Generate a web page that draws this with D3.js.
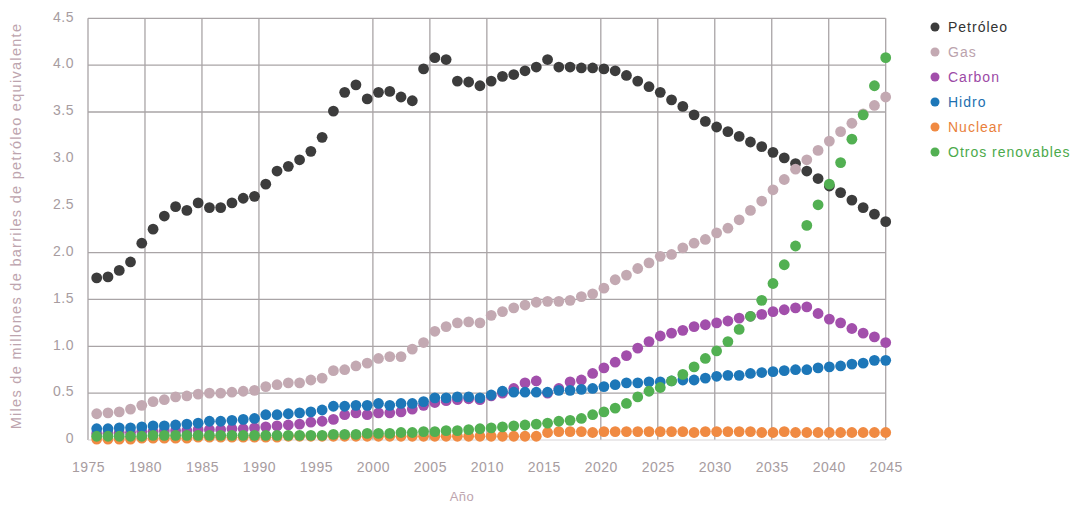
<!DOCTYPE html>
<html>
<head>
<meta charset="utf-8">
<script src="https://cdn.jsdelivr.net/npm/d3@7"></script>
<style>
  html, body { margin: 0; padding: 0; background: #ffffff; }
  svg { display: block; }
  text { font-family: "Liberation Sans Narrow", "Liberation Sans", Arial, sans-serif; }
</style>
</head>
<body>
<svg id="chart" width="1085" height="507"></svg>
<script>
// ---- Data ----
const years = d3.range(1975, 2046);
const seriesNames = ["Petróleo", "Gas", "Carbon", "Hidro", "Nuclear", "Otros renovables"];
const seriesColors = ["#3c3c3c", "#c3a9b2", "#a24fab", "#1d77b8", "#f08a42", "#52b052"];
const legendTextColors = ["#333333", "#bba3ad", "#9c4aa6", "#1d6fb0", "#e97f3c", "#4caa4c"];

const petroleo = [1.73,1.74,1.81,1.90,2.10,2.25,2.39,2.49,2.45,2.53,
                  2.48,2.48,2.53,2.58,2.60,2.73,2.87,2.92,2.99,3.08,
                  3.23,3.51,3.71,3.79,3.64,3.71,3.72,3.66,3.62,3.96,
                  4.08,4.06,3.83,3.82,3.78,3.83,3.88,3.90,3.94,3.98,
                  4.06,3.98,3.98,3.97,3.97,3.96,3.94,3.89,3.83,3.77,
                  3.71,3.63,3.56,3.47,3.40,3.34,3.29,3.24,3.18,3.13,
                  3.07,3.01,2.95,2.87,2.79,2.71,2.64,2.56,2.48,2.41,
                  2.33];
const gas = [0.28,0.29,0.30,0.33,0.37,0.41,0.43,0.46,0.47,0.49,
             0.50,0.50,0.51,0.52,0.53,0.57,0.59,0.61,0.61,0.64,
             0.66,0.74,0.75,0.79,0.82,0.87,0.89,0.89,0.97,1.04,
             1.16,1.21,1.25,1.26,1.25,1.33,1.37,1.41,1.44,1.47,
             1.48,1.48,1.49,1.53,1.56,1.62,1.71,1.76,1.83,1.89,
             1.96,1.98,2.05,2.10,2.14,2.21,2.26,2.35,2.45,2.55,
             2.67,2.78,2.89,2.99,3.09,3.19,3.29,3.38,3.48,3.57,
             3.66];
const carbon = [0.07,0.07,0.08,0.08,0.09,0.09,0.10,0.10,0.10,0.11,
                0.11,0.11,0.12,0.12,0.13,0.14,0.15,0.16,0.17,0.19,
                0.20,0.22,0.27,0.29,0.27,0.29,0.29,0.30,0.33,0.37,
                0.40,0.42,0.43,0.44,0.43,0.47,0.50,0.55,0.61,0.63,
                0.50,0.55,0.62,0.64,0.71,0.77,0.83,0.90,0.98,1.05,
                1.11,1.14,1.17,1.21,1.23,1.25,1.27,1.30,1.32,1.34,
                1.37,1.39,1.41,1.42,1.35,1.29,1.25,1.19,1.14,1.10,
                1.04];
const hidro = [0.12,0.12,0.13,0.13,0.14,0.15,0.15,0.16,0.17,0.18,
               0.20,0.20,0.21,0.22,0.23,0.27,0.27,0.28,0.29,0.30,
               0.32,0.36,0.36,0.37,0.37,0.39,0.37,0.39,0.39,0.41,
               0.45,0.45,0.46,0.46,0.45,0.48,0.52,0.51,0.51,0.51,
               0.51,0.53,0.53,0.54,0.55,0.57,0.59,0.61,0.61,0.62,
               0.62,0.63,0.64,0.64,0.66,0.68,0.69,0.69,0.71,0.72,
               0.73,0.74,0.75,0.75,0.77,0.78,0.79,0.81,0.82,0.85,
               0.85];
const nuclear = [0.01,0.01,0.01,0.01,0.02,0.02,0.02,0.02,0.02,0.03,
                 0.03,0.03,0.03,0.03,0.03,0.03,0.03,0.04,0.04,0.04,
                 0.04,0.04,0.04,0.04,0.04,0.04,0.04,0.04,0.04,0.04,
                 0.04,0.04,0.04,0.04,0.04,0.04,0.04,0.04,0.04,0.04,
                 0.08,0.09,0.09,0.09,0.08,0.09,0.09,0.09,0.09,0.09,
                 0.09,0.09,0.09,0.08,0.09,0.09,0.09,0.09,0.09,0.08,
                 0.08,0.09,0.08,0.08,0.08,0.08,0.08,0.08,0.08,0.08,
                 0.08];
const renovables = [0.04,0.04,0.04,0.04,0.04,0.05,0.05,0.05,0.05,0.05,
                    0.05,0.05,0.05,0.05,0.05,0.05,0.05,0.05,0.05,0.05,
                    0.05,0.06,0.06,0.06,0.07,0.07,0.07,0.08,0.08,0.09,
                    0.09,0.10,0.10,0.11,0.12,0.13,0.14,0.15,0.16,0.17,
                    0.18,0.20,0.21,0.23,0.27,0.30,0.34,0.39,0.46,0.52,
                    0.56,0.63,0.70,0.78,0.87,0.95,1.05,1.18,1.32,1.49,
                    1.67,1.87,2.07,2.29,2.51,2.73,2.96,3.21,3.47,3.78,
                    4.08];

const yTickValues = [0, 0.5, 1, 1.5, 2, 2.5, 3, 3.5, 4, 4.5];
const yTickLabels = ["0", "0.5", "1.0", "1.5", "2.0", "2.5", "3.0", "3.5", "4.0", "4.5"];
const yGridValues = [0.5, 1, 1.5, 2, 3.5, 4, 4.5];
const xTickValues = d3.range(1975, 2046, 5);
const xGridValues = [1975, 1980, 1985, 1990, 2000, 2005, 2010, 2020, 2025, 2030, 2035, 2040, 2045];

const yTitle = "Miles de millones de barriles de petróleo equivalente";
const xTitle = "Año";

// ---- Build ----
const allSeries = [petroleo, gas, carbon, hidro, nuclear, renovables];
const svg = d3.select("#chart");

const y = d3.scaleLinear().domain([0, 4.5]).range([440, 18.3]);
const xGrid = d3.scaleLinear().domain([1975, 2045]).range([88, 885.7]);
const xPt = d3.scaleLinear().domain([1975, 2045]).range([96.7, 885.7]);

const gridColor = "#a9a4a6";
const tickColor = "#a79c9f";

// grid
const grid = svg.append("g");
grid.selectAll("line.h").data(yGridValues).join("line")
  .attr("x1", xGrid(1975)).attr("x2", xGrid(2045))
  .attr("y1", d => y(d)).attr("y2", d => y(d))
  .attr("stroke", gridColor).attr("stroke-width", 1.3);
grid.selectAll("line.v").data(xGridValues).join("line")
  .attr("x1", d => xGrid(d)).attr("x2", d => xGrid(d))
  .attr("y1", y(4.5)).attr("y2", y(0))
  .attr("stroke", gridColor).attr("stroke-width", 1.3);
grid.append("line")
  .attr("x1", xGrid(1975)).attr("x2", xGrid(2045))
  .attr("y1", y(0)).attr("y2", y(0))
  .attr("stroke", "#d8d4d5").attr("stroke-width", 1);

// y axis labels
const yAxis = d3.axisLeft(y).tickValues(yTickValues)
  .tickFormat((d, i) => yTickLabels[i]).tickSize(0).tickPadding(0);
const gy = svg.append("g").attr("transform", `translate(74,0)`).call(yAxis);
gy.select(".domain").remove();
gy.selectAll("text").attr("fill", tickColor).attr("font-size", 14)
  .attr("letter-spacing", 0.5).attr("dy", "0.2em");

// x axis labels
const xAxis = d3.axisBottom(xGrid).tickValues(xTickValues)
  .tickFormat(d3.format("d")).tickSize(0).tickPadding(0);
const gx = svg.append("g").attr("transform", `translate(0,462)`).call(xAxis);
gx.select(".domain").remove();
gx.selectAll("text").attr("fill", tickColor).attr("font-size", 14)
  .attr("letter-spacing", 0.5);

// titles
svg.append("text")
  .attr("transform", `translate(21,226) rotate(-90)`)
  .attr("text-anchor", "middle")
  .attr("fill", "#bda4ae").attr("font-size", 14.5).attr("letter-spacing", 1.3)
  .text(yTitle);
svg.append("text")
  .attr("x", 462).attr("y", 501)
  .attr("text-anchor", "middle")
  .attr("fill", "#bda4ae").attr("font-size", 13).attr("letter-spacing", 0.5)
  .text(xTitle);

// points
allSeries.forEach((vals, si) => {
  svg.append("g").selectAll("circle").data(vals).join("circle")
    .attr("cx", (d, i) => xPt(years[i]))
    .attr("cy", d => y(d))
    .attr("r", 5.4)
    .attr("fill", seriesColors[si]);
});

// legend
const leg = svg.append("g");
const legY = d3.scalePoint().domain(seriesNames).range([27, 152]);
seriesNames.forEach((name, i) => {
  leg.append("circle").attr("cx", 935).attr("cy", legY(name)).attr("r", 4.5)
    .attr("fill", seriesColors[i]);
  leg.append("text").attr("x", 948).attr("y", legY(name)).attr("dy", "0.35em")
    .attr("fill", legendTextColors[i]).attr("font-size", 14).attr("letter-spacing", 1)
    .text(name);
});
</script>
</body>
</html>
